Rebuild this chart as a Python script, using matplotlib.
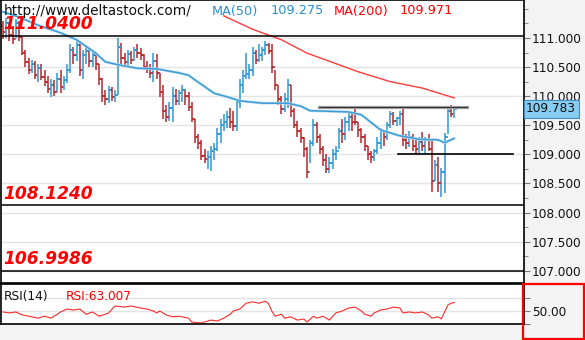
import numpy as np
import matplotlib
matplotlib.use("Agg")
import matplotlib.pyplot as plt
from matplotlib.patches import Rectangle
from matplotlib.ticker import MultipleLocator, FixedLocator

# ---------------------------
# Data
# ---------------------------
highs = [111.30, 111.35, 111.28, 111.20, 111.33, 111.30, 111.02, 110.80, 110.65, 110.62,
         110.60, 110.55, 110.55, 110.45, 110.35, 110.30, 110.28, 110.40, 110.45, 110.35,
         110.55, 110.90, 110.85, 110.95, 110.95, 110.80, 110.85, 110.82, 110.78, 110.75,
         110.55, 110.32, 110.10, 110.18, 110.15, 110.10, 111.00, 110.92, 110.75, 110.80,
         110.78, 110.85, 110.90, 110.82, 110.72, 110.60, 110.55, 110.75, 110.72, 110.40,
         110.20, 109.85, 109.90, 110.15, 110.12, 110.10, 110.20, 110.12, 110.08, 109.90,
         109.60, 109.35, 109.25, 109.10, 109.05, 109.15, 109.20, 109.45, 109.60, 109.70,
         109.75, 109.80, 109.75, 109.95, 110.30, 110.45, 110.75, 110.55, 110.85, 110.80,
         110.90, 110.85, 110.95, 110.92, 110.90, 110.45, 110.20, 110.00, 110.05, 110.30,
         110.20, 109.80, 109.58, 109.45, 109.30, 109.12, 109.25, 109.60, 109.55, 109.35,
         109.15, 109.00, 108.95, 109.10, 109.15, 109.45, 109.60, 109.65, 109.73, 109.70,
         109.83, 109.55, 109.45, 109.35, 109.15, 109.05, 109.10, 109.30, 109.45, 109.40,
         109.55, 109.75, 109.72, 109.65, 109.75, 109.83, 109.35, 109.40, 109.35, 109.25,
         109.30, 109.38, 109.30, 109.35, 109.25, 108.90, 108.95, 108.77, 109.37, 109.83,
         109.85, 109.80]
lows = [110.98, 111.00, 110.95, 110.90, 111.00, 110.95, 110.70, 110.50, 110.38, 110.40,
        110.30, 110.25, 110.28, 110.18, 110.05, 109.98, 110.00, 110.08, 110.05, 110.10,
        110.22, 110.40, 110.55, 110.60, 110.35, 110.30, 110.55, 110.50, 110.50, 110.45,
        110.20, 109.90, 109.85, 109.88, 109.92, 109.90, 110.02, 110.55, 110.50, 110.52,
        110.55, 110.60, 110.65, 110.62, 110.45, 110.40, 110.32, 110.25, 110.30, 109.98,
        109.60, 109.55, 109.58, 109.55, 109.85, 109.85, 109.90, 109.85, 109.75, 109.55,
        109.20, 109.10, 108.90, 108.85, 108.75, 108.72, 108.90, 109.05, 109.20, 109.40,
        109.45, 109.45, 109.40, 109.40, 109.80, 110.05, 110.30, 110.30, 110.35, 110.55,
        110.58, 110.60, 110.70, 110.72, 110.40, 110.10, 109.85, 109.70, 109.72, 109.80,
        109.65, 109.45, 109.30, 109.20, 108.95, 108.60, 108.85, 109.15, 109.20, 109.00,
        108.80, 108.68, 108.68, 108.75, 108.90, 109.10, 109.20, 109.25, 109.40, 109.40,
        109.50, 109.30, 109.20, 109.05, 108.90, 108.85, 108.88, 109.00, 109.10, 109.15,
        109.25, 109.45, 109.50, 109.48, 109.50, 109.15, 109.10, 109.12, 109.05, 109.00,
        109.02, 109.05, 109.00, 109.05, 108.35, 108.55, 108.35, 108.27, 108.34, 109.35,
        109.65, 109.63]
closes = [111.10, 111.25, 111.05, 110.98, 111.25, 111.02, 110.75, 110.58, 110.45, 110.55,
          110.36, 110.48, 110.33, 110.25, 110.12, 110.20, 110.08, 110.30, 110.15, 110.28,
          110.45, 110.80, 110.70, 110.88, 110.45, 110.70, 110.78, 110.60, 110.70, 110.55,
          110.30, 110.00, 109.95, 110.10, 109.98, 110.02, 110.85, 110.65, 110.58, 110.72,
          110.62, 110.80, 110.75, 110.70, 110.50, 110.48, 110.40, 110.60, 110.40, 110.08,
          109.75, 109.65, 109.80, 110.00, 109.92, 110.05, 110.10, 110.00, 109.82, 109.60,
          109.30, 109.20, 108.98, 108.92, 108.95, 109.05, 109.10, 109.35, 109.50, 109.55,
          109.65, 109.55, 109.48, 109.90, 110.20, 110.35, 110.38, 110.45, 110.75, 110.62,
          110.70, 110.80, 110.88, 110.78, 110.50, 110.20, 109.95, 109.78, 109.95, 110.20,
          109.75, 109.50, 109.40, 109.28, 109.10, 108.70, 109.20, 109.50, 109.30, 109.10,
          108.90, 108.75, 108.85, 109.00, 109.05, 109.40, 109.35, 109.55, 109.65, 109.55,
          109.55, 109.42, 109.30, 109.15, 109.00, 108.95, 109.05, 109.20, 109.40, 109.30,
          109.50, 109.70, 109.58, 109.62, 109.70, 109.25, 109.20, 109.30, 109.15, 109.10,
          109.22, 109.15, 109.25, 109.10, 108.55, 108.82, 108.50, 108.70, 109.30, 109.75,
          109.70, 109.783]
first_open = 111.20

ma50_bars = [0, 5, 11, 18, 23, 29, 32, 36, 42, 48, 55, 58, 60, 66, 70, 74, 81, 89, 93,
             96, 108, 112, 118, 124, 130, 136, 138, 141]
ma50_vals = [111.45, 111.36, 111.22, 111.09, 110.97, 110.74, 110.59, 110.54, 110.48, 110.47,
             110.40, 110.36, 110.28, 110.05, 109.99, 109.92, 109.88, 109.88, 109.83,
             109.75, 109.73, 109.68, 109.42, 109.32, 109.26, 109.25, 109.20, 109.275]

ma200_bars = [69, 78, 87, 95, 101, 111, 121, 131, 141]
ma200_vals = [111.38, 111.15, 110.97, 110.74, 110.62, 110.42, 110.25, 110.14, 109.971]

rsi_bars = [0, 2, 4, 6, 8, 11, 13, 15, 17, 18, 20, 22, 24, 26, 28, 30, 32, 33, 35, 38, 40,
            43, 45, 47, 48, 49, 51, 53, 55, 58, 59, 62, 63, 65, 67, 69, 71, 72, 74, 76, 78,
            80, 82, 83, 84, 85, 87, 88, 90, 92, 94, 95, 97, 98, 100, 102, 104, 106, 108,
            110, 112, 113, 115, 116, 118, 120, 122, 124, 125, 127, 129, 131, 133, 134, 136,
            137, 138, 139, 140, 141]
rsi_vals = [48.5, 47, 48.5, 44, 42, 39, 42, 39, 45, 48.5, 53, 51.5, 53, 45, 48.5, 42, 45,
            47, 57.7, 56, 57.7, 54.6, 53, 50, 47, 50, 44, 41, 42, 39, 33, 31.5, 33, 36,
            34.6, 39, 45, 50, 53, 62, 64, 62, 65, 61, 50, 42, 45, 39, 41, 36, 37.7, 33, 42,
            39, 42, 36, 47, 50, 54.6, 56, 50, 45, 42, 47, 51.5, 53, 56, 54.6, 47, 48.5, 47,
            48.5, 44, 39, 41, 37.7, 48.5, 59, 62, 63.007]

# full width level lines and their labels
levels = [111.04, 108.124, 106.9986]
level_labels = ["111.0400", "108.1240", "106.9986"]
# short trend lines: (price, first bar, last bar)
resistance = (109.82, 98.75, 145.0)
support = (109.00, 123.4, 159.3)

last_price = 109.783
ma50_last = 109.275
ma200_last = 109.971
rsi_last = 63.007

# ---------------------------
# Figure
# ---------------------------
W, H = 585, 340
fig = plt.figure(figsize=(W / 100, H / 100), dpi=100, facecolor="#f3f3f3")

def fx(px):
    return px / W

def fy(py):
    return 1 - py / H

ax = fig.add_axes([fx(1), fy(283), fx(523), 283 / H])
ax_rsi = fig.add_axes([fx(1), fy(324), fx(523), 40 / H])

blue = "#2f97d3"
red = "#b3282d"

n = len(closes)
idx = np.arange(n)
opens = [first_open] + closes[:-1]
cols = [blue if c > o else red for o, c in zip(opens, closes)]

ax.vlines(idx, lows, highs, colors=cols, lw=1.1)
ax.hlines(opens, idx - 0.75, idx, colors=cols, lw=1.1)
ax.hlines(closes, idx, idx + 0.75, colors=cols, lw=1.1)

# moving averages
ax.plot(ma50_bars, ma50_vals, color="#bfe0f3", lw=2.0, solid_capstyle="round")
ax.plot(ma50_bars, ma50_vals, color="#3d9bd6", lw=1.1)
ax.plot(ma200_bars, ma200_vals, color="#ff3b3b", lw=1.0)

# levels
for lv, lab in zip(levels, level_labels):
    ax.axhline(lv, color="black", lw=1.1)
    ax.text(0.004, lv + 0.2, lab, transform=ax.get_yaxis_transform(), color="red",
            fontsize=12.3, fontweight="bold", fontstyle="italic", va="center", ha="left")

ax.plot([resistance[1], resistance[2]], [resistance[0]] * 2, color="#b8b8b8", lw=2.4)
ax.plot([resistance[1], resistance[2]], [resistance[0]] * 2, color="#333333", lw=1.0)
ax.plot([support[1], support[2]], [support[0]] * 2, color="black", lw=1.2)

ax.set_xlim(-0.6, 162.8)
ax.set_ylim(106.79, 111.653)
ax.yaxis.set_major_locator(FixedLocator([107.0, 107.5, 108.0, 108.5, 109.0,
                                         109.5, 110.0, 110.5, 111.0]))
ax.yaxis.set_minor_locator(MultipleLocator(0.25))
ax.grid(axis="y", which="major", color="#e4e4e4", lw=1)
ax.set_axisbelow(True)
ax.yaxis.tick_right()
ax.yaxis.set_major_formatter(lambda v, p: f"{v:.3f}")
ax.tick_params(axis="y", which="major", direction="out", length=4, color="#777777",
               labelsize=8.7, labelcolor="#111111", pad=1.5)
ax.tick_params(axis="y", which="minor", direction="out", length=3, color="#777777")
ax.set_xticks([])
for s in ax.spines.values():
    s.set_linewidth(1.2)

# last price tag
ax.text(1.004, last_price, f"{last_price:.3f}", transform=ax.get_yaxis_transform(),
        fontsize=8.7, color="#111111", va="center", ha="left", zorder=5,
        bbox=dict(boxstyle="square,pad=0.2", fc="#88cdf0", ec="#3f8fc6", lw=0.8))

# RSI panel
ax_rsi.plot(rsi_bars, rsi_vals, color="#ff2a2a", lw=0.8)
ax_rsi.set_xlim(-0.6, 162.8)
ax_rsi.set_ylim(30, 91.5)
ax_rsi.yaxis.set_major_locator(FixedLocator([30, 50, 70]))
ax_rsi.set_yticklabels(["", "50.00", ""])
ax_rsi.yaxis.tick_right()
ax_rsi.grid(axis="y", color="#e4e4e4", lw=1)
ax_rsi.set_axisbelow(True)
ax_rsi.tick_params(axis="y", direction="out", length=4, color="#777777",
                   labelsize=8.7, labelcolor="#111111", pad=1.5)
ax_rsi.set_xticks([])
for s in ax_rsi.spines.values():
    s.set_linewidth(1.2)
ax_rsi.text(3 / 523, 0.68, "RSI(14)", transform=ax_rsi.transAxes, fontsize=8.7,
            color="#111111", va="center", ha="left")
ax_rsi.text(65 / 523, 0.68, f"RSI:{rsi_last:.3f}", transform=ax_rsi.transAxes,
            fontsize=8.7, color="red", va="center", ha="left")

# header
fig.text(fx(4), fy(11), "http://www.deltastock.com/", fontsize=9.8, color="#111111",
         va="center", ha="left")
fig.text(fx(212), fy(11), "MA(50)", fontsize=9.3, color="#2a8fd0", va="center")
fig.text(fx(271), fy(11), f"{ma50_last:.3f}", fontsize=9.3, color="#2a8fd0", va="center")
fig.text(fx(334), fy(11), "MA(200)", fontsize=9.3, color="red", va="center")
fig.text(fx(400), fy(11), f"{ma200_last:.3f}", fontsize=9.3, color="red", va="center")

# red frame around the RSI scale
fig.patches.append(Rectangle((fx(523), fy(339)), fx(61), 55 / H, transform=fig.transFigure,
                             fill=False, ec="red", lw=1.6))

fig.savefig("out.png", dpi=100, facecolor=fig.get_facecolor())
